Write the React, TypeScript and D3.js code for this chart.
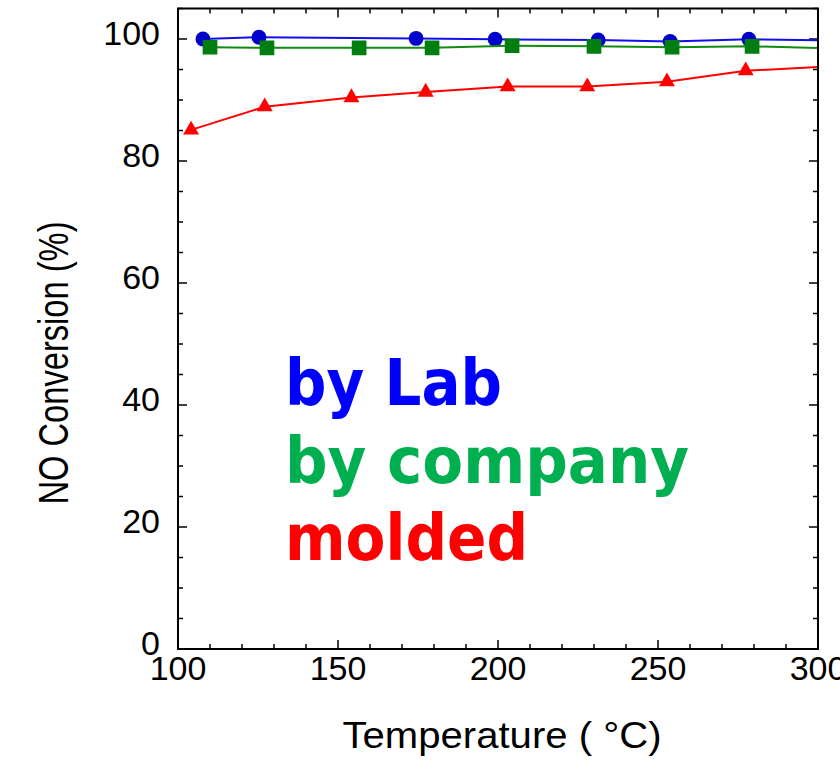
import React from "react";
import * as d3 from "d3";

// values
const labTemp = [107.8, 125.3, 174.4, 199.1, 231.3, 253.8, 278.4, 304];
const labConv = [100.0, 100.3, 100.1, 99.95, 99.85, 99.6, 99.95, 99.75];

const companyTemp = [110.0, 127.8, 156.6, 179.4, 204.4, 230.0, 254.4, 279.4, 304];
const companyConv = [98.65, 98.55, 98.55, 98.55, 98.9, 98.8, 98.65, 98.8, 98.45];

const moldedTemp = [104.1, 127.1, 154.2, 177.4, 203.0, 227.9, 252.8, 277.4, 304];
const moldedConv = [85.1, 88.9, 90.4, 91.3, 92.2, 92.2, 93.0, 94.8, 95.5];

const xTickValues = [100, 150, 200, 250, 300];
const yTickValues = [0, 20, 40, 60, 80, 100];

const legendNames = ["by Lab", "by company", "molded"];

const W = 840;
const H = 769;
const left = 178;
const right = 818;
const top = 8.5;
const bottom = 649;

const App = () => {
  const x = d3.scaleLinear().domain([100, 300]).range([left, right]);
  const y = d3.scaleLinear().domain([0, 105]).range([bottom, top]);

  const line = d3.line<[number, number]>()
    .x(d => x(d[0]))
    .y(d => y(d[1]));

  const series = [
    { name: "lab", t: labTemp, v: labConv, line: "#1010ee", mark: "#0000cc", shape: d3.symbolCircle, size: 175 },
    { name: "company", t: companyTemp, v: companyConv, line: "#108a10", mark: "#007f10", shape: d3.symbolSquare, size: 215 },
    { name: "molded", t: moldedTemp, v: moldedConv, line: "#ff0000", mark: "#ff0000", shape: d3.symbolTriangle, size: 110 },
  ];

  const minorX = d3.range(100, 301, 10);
  const minorY = d3.range(0, 106, 5);

  const legendColors = ["#0000ff", "#00b050", "#ff0000"];
  const legendWidths = [217, 404, 243];
  const legendBase = [405, 483, 560];

  return (
    <svg width={W} height={H} style={{ position: "absolute", left: 0, top: 0, background: "white" }}>
      <defs>
        <clipPath id="plot-clip">
          <rect x={left} y={top} width={right - left} height={bottom - top} />
        </clipPath>
      </defs>

      {/* ticks, inward on all four sides */}
      <g stroke="black" strokeWidth={1.5}>
        {minorX.map(t => {
          const len = t % 50 === 0 ? 9 : 5;
          return (
            <g key={"x" + t}>
              <line x1={x(t)} x2={x(t)} y1={bottom} y2={bottom - len} />
              <line x1={x(t)} x2={x(t)} y1={top} y2={top + len} />
            </g>
          );
        })}
        {minorY.map(t => {
          const len = t % 20 === 0 ? 9 : 5;
          return (
            <g key={"y" + t}>
              <line x1={left} x2={left + len} y1={y(t)} y2={y(t)} />
              <line x1={right} x2={right - len} y1={y(t)} y2={y(t)} />
            </g>
          );
        })}
      </g>

      <g clipPath="url(#plot-clip)">
        {series.map(s => (
          <g key={s.name}>
            <path
              d={line(d3.zip(s.t, s.v) as [number, number][]) ?? ""}
              fill="none"
              stroke={s.line}
              strokeWidth={2}
            />
            {s.t.map((t, i) => (
              <path
                key={i}
                d={d3.symbol().type(s.shape).size(s.size)() ?? ""}
                transform={`translate(${x(t)},${y(s.v[i])})`}
                fill={s.mark}
              />
            ))}
          </g>
        ))}
      </g>

      <rect x={left} y={top} width={right - left} height={bottom - top} fill="none" stroke="black" strokeWidth={2} />

      <g fontFamily="'Liberation Sans', Arial, sans-serif" fontSize={34} fill="black">
        {xTickValues.map(t => (
          <text key={t} x={x(t)} y={680} textAnchor="middle">{t}</text>
        ))}
        {yTickValues.map(t => (
          <text key={t} x={160} y={y(t) + 6} textAnchor="end">{t}</text>
        ))}
      </g>

      <text
        x={502}
        y={748}
        textAnchor="middle"
        fontFamily="'Liberation Sans', Arial, sans-serif"
        fontSize={37}
        textLength={319}
        lengthAdjust="spacingAndGlyphs"
      >
        Temperature ( °C)
      </text>
      <text
        transform="translate(68,363) rotate(-90)"
        textAnchor="middle"
        fontFamily="'Liberation Sans', Arial, sans-serif"
        fontSize={43}
        textLength={283}
        lengthAdjust="spacingAndGlyphs"
      >
        NO Conversion (%)
      </text>

      <g fontFamily="'DejaVu Sans', sans-serif" fontWeight="bold" fontSize={64}>
        {legendNames.map((n, i) => (
          <text
            key={n}
            x={285}
            y={legendBase[i]}
            fill={legendColors[i]}
            textLength={legendWidths[i]}
            lengthAdjust="spacingAndGlyphs"
          >
            {n}
          </text>
        ))}
      </g>
    </svg>
  );
};

export default App;
